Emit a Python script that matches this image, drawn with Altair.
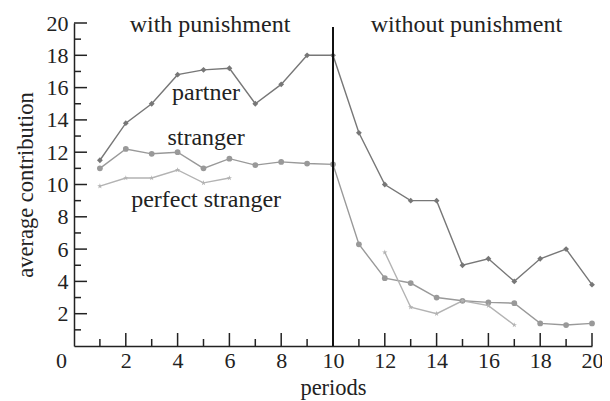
import altair as alt
import pandas as pd

periods = list(range(1, 21))
partner = [11.5, 13.8, 15.0, 16.8, 17.1, 17.2, 15.0, 16.2, 18.0, 18.0,
           13.2, 10.0, 9.0, 9.0, 5.0, 5.4, 4.0, 5.4, 6.0, 3.8]
stranger = [11.0, 12.2, 11.9, 12.0, 11.0, 11.6, 11.2, 11.4, 11.3, 11.25,
            6.3, 4.2, 3.9, 3.0, 2.8, 2.7, 2.65, 1.4, 1.3, 1.4]
perfect_stranger = [9.9, 10.4, 10.4, 10.9, 10.1, 10.4, None, None, None, None,
                    None, 5.8, 2.4, 2.0, 2.8, 2.5, 1.3, None, None, None]

series_names = ["partner", "stranger", "perfect stranger"]
series_colors = ["#777777", "#999999", "#b3b3b3"]
STAR = ("M0,-1L0.2245,-0.309L0.951,-0.309L0.363,0.118L0.588,0.809L0,0.382"
        "L-0.588,0.809L-0.363,0.118L-0.951,-0.309L-0.2245,-0.309Z")
series_shapes = ["diamond", "circle", STAR]

annot_text = ["with punishment", "without punishment", "partner", "stranger", "perfect stranger"]
annot_x = [5.25, 15.15, 5.1, 5.1, 5.1]
annot_y = [19.9, 19.9, 15.65, 12.9, 9.07]

tick_values = list(range(1, 21))
break_period = 10

rows = []
for name, vals in zip(series_names, [partner, stranger, perfect_stranger]):
    seg = 0
    prev_none = True
    for p, v in zip(periods, vals):
        if v is None:
            prev_none = True
            continue
        if prev_none:
            seg += 1
        prev_none = False
        rows.append({"series": name, "period": p, "value": v, "segment": f"{name}-{seg}"})
df = pd.DataFrame(rows)

W, H = 518, 323
FONT = "Liberation Serif"
TXT = "#222222"
xs = alt.Scale(domain=[0, 20], nice=False, zero=False)
ys = alt.Scale(domain=[0, 20], nice=False, zero=False)
col = alt.Scale(domain=series_names, range=series_colors)
shp = alt.Scale(domain=series_names, range=series_shapes)

x_axis = alt.Axis(values=list(range(0, 21, 2)), ticks=False, grid=False,
                  domainColor=TXT, domainWidth=1.5,
                  labelFont=FONT, labelFontSize=22, labelColor=TXT,
                  labelPadding=4, labelFlush=False, labelOverlap=False,
                  labelOffset=alt.ExprRef("datum.value == 0 ? -13 : 0"),
                  titleFont=FONT, titleFontSize=22.5, titleFontWeight="normal",
                  titleColor=TXT, titlePadding=5)
y_axis = alt.Axis(values=list(range(2, 21, 2)), ticks=False, grid=False,
                  domainColor=TXT, domainWidth=1.5,
                  labelFont=FONT, labelFontSize=22, labelColor=TXT,
                  labelPadding=6, labelFlush=False, labelOverlap=False,
                  titleFont=FONT, titleFontSize=22.5, titleFontWeight="normal",
                  titleColor=TXT, titlePadding=9)


def X(field):
    return alt.X(field, type="quantitative", scale=xs, axis=x_axis, title="periods")


def Y(field):
    return alt.Y(field, type="quantitative", scale=ys, axis=y_axis, title="average contribution")


base = alt.Chart(df)

tdf = pd.DataFrame({"v": tick_values})
tdf["major"] = tdf["v"] % 2 == 0
xt_major = alt.Chart(tdf[tdf["major"]]).mark_rule(color=TXT, strokeWidth=1.5).encode(
    x=X("v"), y=alt.value(H), y2=alt.value(H - 13))
xt_minor = alt.Chart(tdf[~tdf["major"]]).mark_rule(color=TXT, strokeWidth=1.5).encode(
    x=X("v"), y=alt.value(H), y2=alt.value(H - 7))
yt_major = alt.Chart(tdf[tdf["major"]]).mark_rule(color=TXT, strokeWidth=1.5).encode(
    y=Y("v"), x=alt.value(0), x2=alt.value(13))
yt_minor = alt.Chart(tdf[~tdf["major"]]).mark_rule(color=TXT, strokeWidth=1.5).encode(
    y=Y("v"), x=alt.value(0), x2=alt.value(7))

vline = alt.Chart(pd.DataFrame({"x": [break_period], "y": [0], "y2": [19.75]})).mark_rule(
    color="#111111", strokeWidth=2).encode(x=X("x"), y=Y("y"), y2="y2:Q")

lines = base.mark_line(strokeWidth=1.4).encode(
    x=X("period"),
    y=Y("value"),
    color=alt.Color("series:N", scale=col, legend=None),
    detail="segment:N",
    order="period:Q",
)
points = base.mark_point(filled=True, opacity=1).encode(
    x=X("period"),
    y=Y("value"),
    color=alt.Color("series:N", scale=col, legend=None),
    shape=alt.Shape("series:N", scale=shp, legend=None),
    size=alt.Size("series:N", scale=alt.Scale(domain=series_names, range=[34, 32, 100]), legend=None),
)

adf = pd.DataFrame({"t": annot_text, "x": annot_x, "y": annot_y})
texts = alt.Chart(adf).mark_text(font=FONT, fontSize=24, color=TXT,
                                 align="center", baseline="middle").encode(
    x=X("x"), y=Y("y"), text="t:N")

chart = alt.layer(xt_major, xt_minor, yt_major, yt_minor, lines, points, vline, texts).properties(
    width=W, height=H,
    padding={"left": 66, "top": 15, "right": 10, "bottom": 55},
    autosize=alt.AutoSizeParams(type="none"),
).configure_view(stroke=None)

chart.save("out.html", embed_options={"renderer": "svg", "actions": False})
